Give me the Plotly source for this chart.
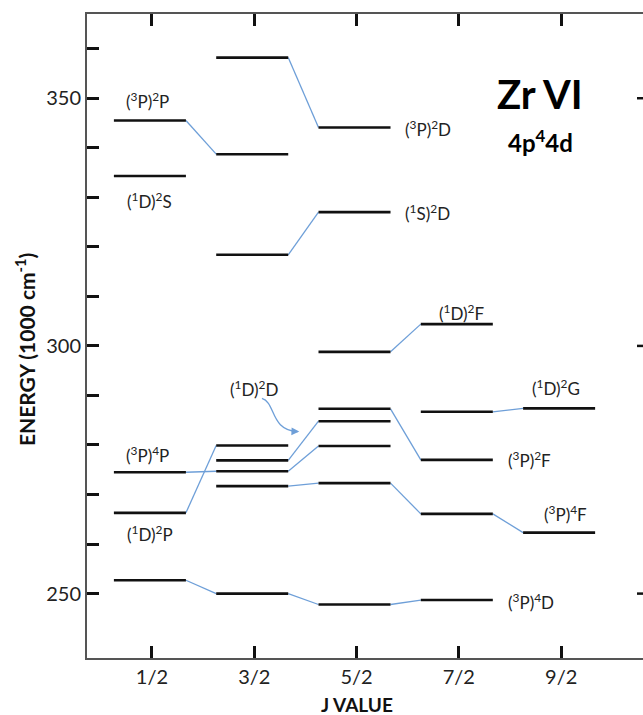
import plotly.graph_objects as go

# ---- data ----
j_labels = ["1/2", "3/2", "5/2", "7/2", "9/2"]
# energy levels (1000 cm-1) for each J column index
levels_j0 = [345.5, 334.3, 274.5, 266.3, 252.7]
levels_j1 = [358.2, 338.7, 318.4, 279.9, 276.9, 274.7, 271.7, 250.0]
levels_j2 = [344.1, 327.0, 298.8, 287.3, 284.8, 279.8, 272.3, 247.8]
levels_j3 = [304.4, 286.7, 277.0, 266.1, 248.7]
levels_j4 = [287.4, 262.3]
levels = [levels_j0, levels_j1, levels_j2, levels_j3, levels_j4]

# connectors: (from column, energy at that column, energy at next column)
conn_from = [0, 1, 1, 2, 0, 0, 1, 1, 1, 2, 2, 3, 3, 0, 1, 2]
conn_e1 = [345.5, 358.2, 318.4, 298.8, 274.5, 266.3, 276.9, 274.7, 271.7, 287.3, 272.3, 266.1, 286.7, 252.7, 250.0, 247.8]
conn_e2 = [338.7, 344.1, 327.0, 304.4, 274.7, 279.9, 284.8, 279.8, 272.3, 277.0, 266.1, 262.3, 287.4, 250.0, 247.8, 248.7]

# term labels: text, x (column units), y (energy), anchor
term_text = ["(<sup>3</sup>P)<sup>2</sup>P", "(<sup>1</sup>D)<sup>2</sup>S", "(<sup>3</sup>P)<sup>4</sup>P",
             "(<sup>1</sup>D)<sup>2</sup>P", "(<sup>1</sup>D)<sup>2</sup>D", "(<sup>3</sup>P)<sup>2</sup>D",
             "(<sup>1</sup>S)<sup>2</sup>D", "(<sup>1</sup>D)<sup>2</sup>F", "(<sup>1</sup>D)<sup>2</sup>G",
             "(<sup>3</sup>P)<sup>2</sup>F", "(<sup>3</sup>P)<sup>4</sup>F", "(<sup>3</sup>P)<sup>4</sup>D"]
term_x = [-0.04, -0.02, -0.04, -0.02, 1.0, 2.45, 2.45, 3.03, 3.95, 3.46, 4.04, 3.46]
term_y = [349.6, 329.4, 278.0, 262.2, 291.4, 343.9, 327.0, 306.8, 291.7, 277.1, 266.2, 248.5]
term_anchor = ["center", "center", "center", "center", "center", "left",
               "left", "center", "center", "left", "center", "left"]

y_ticks = list(range(250, 361, 10))
y_major = [250, 300, 350]

HALF = 0.352
SHIFT = -0.02

fig = go.Figure()

# connectors
cx, cy = [], []
for j, e1, e2 in zip(conn_from, conn_e1, conn_e2):
    cx += [j + SHIFT + HALF, j + 1 + SHIFT - HALF, None]
    cy += [e1, e2, None]
fig.add_trace(go.Scatter(x=cx, y=cy, mode="lines",
                         line=dict(color="#6e9fd8", width=1.3),
                         hoverinfo="skip", showlegend=False))

# levels
lx, ly = [], []
for j, col in enumerate(levels):
    for e in col:
        lx += [j + SHIFT - HALF, j + SHIFT + HALF, None]
        ly += [e, e, None]
fig.add_trace(go.Scatter(x=lx, y=ly, mode="lines",
                         line=dict(color="#111111", width=2.6),
                         hoverinfo="skip", showlegend=False))

FONT = "Lato, Open Sans, sans-serif"

for t, x, y, a in zip(term_text, term_x, term_y, term_anchor):
    fig.add_annotation(x=x, y=y, text=t, showarrow=False, xanchor=a,
                       yanchor="middle", font=dict(family=FONT, size=17, color="#222222"))

# title texts
fig.add_annotation(x=3.79, y=350.8, text="<b>Zr VI</b>", showarrow=False,
                   xanchor="center", yanchor="middle",
                   font=dict(family=FONT, size=40, color="#000000"))
fig.add_annotation(x=3.80, y=341.3, text="<b>4p<sup>4</sup>4d</b>", showarrow=False,
                   xanchor="center", yanchor="middle",
                   font=dict(family=FONT, size=24, color="#000000"))

# curved arrow for (1D)2D
fig.add_shape(type="path", xref="x", yref="y",
              path="M 1.075,289.4 C 1.212,288.6 1.153,282.9 1.425,282.7",
              line=dict(color="#6e9fd8", width=1.3))
fig.add_annotation(x=1.44, y=282.7, ax=1.38, ay=282.75, axref="x", ayref="y",
                   xref="x", yref="y", text="", showarrow=True,
                   arrowhead=2, arrowsize=1.2, arrowwidth=1.3, arrowcolor="#6e9fd8")

# axis titles as annotations
fig.add_annotation(xref="paper", yref="paper", x=-0.1124, y=0.479, textangle=-90,
                   xanchor="center", yanchor="middle",
                   text="<b>ENERGY (1000 cm<sup>-1</sup>)</b>", showarrow=False,
                   font=dict(family=FONT, size=21, color="#111111"))
fig.add_annotation(xref="paper", yref="paper", x=0.4865, y=-0.072,
                   xanchor="center", yanchor="middle",
                   text="<b>J VALUE</b>", showarrow=False,
                   font=dict(family=FONT, size=19, color="#111111"))

# right-side ticks (right frame is outside the picture)
for v in y_major:
    fig.add_shape(type="line", xref="paper", yref="y", x0=(637 - 87) / 556, x1=1.0,
                  y0=v, y1=v, line=dict(color="#111111", width=2.5))

fig.update_xaxes(range=[-0.635, 4.80], tickvals=list(range(5)), ticktext=j_labels,
                 showline=True, linecolor="#555555", linewidth=2, mirror="ticks",
                 ticks="inside", ticklen=12, tickwidth=2.5, tickcolor="#111111",
                 showgrid=False, zeroline=False,
                 tickfont=dict(family=FONT, size=20, color="#222222"))
fig.update_yaxes(range=[237, 367], tickvals=y_ticks,
                 ticktext=[str(v) if v in y_major else "" for v in y_ticks],
                 showline=True, linecolor="#555555", linewidth=2,
                 ticks="inside", ticklen=12, tickwidth=2.5, tickcolor="#111111",
                 showgrid=False, zeroline=False,
                 tickfont=dict(family=FONT, size=20, color="#222222"))

fig.update_layout(width=643, height=715, margin=dict(l=87, r=0, t=14, b=57),
                  plot_bgcolor="white", paper_bgcolor="white")

fig.write_html("out.html", config={"displayModeBar": False},
               post_script="document.body.style.margin='0';document.body.style.overflow='hidden';")
